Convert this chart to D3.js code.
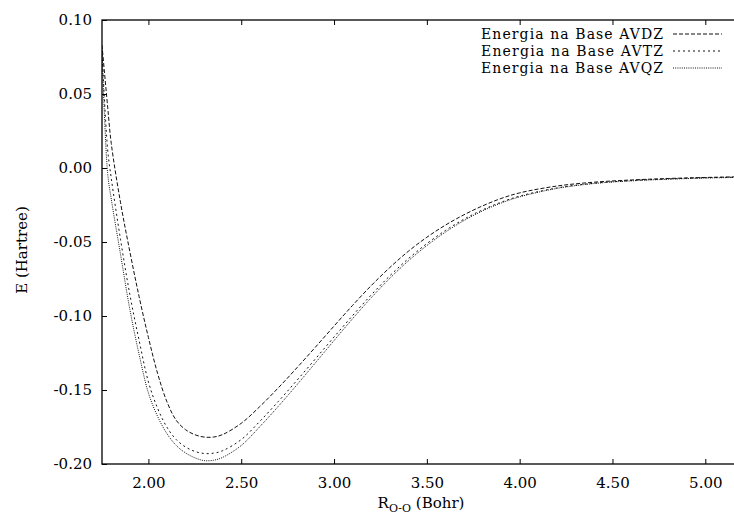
<!DOCTYPE html>
<html>
<head>
<meta charset="utf-8">
<script src="https://cdn.jsdelivr.net/npm/d3@7"></script>
<style>
    body { margin: 0; background: #fff; }
    text { font-family: "DejaVu Serif", serif; fill: #000; }
</style>
</head>
<body>
<script>
// distances R (Bohr)
var rValues = [1.75, 1.78, 1.80, 1.85, 1.90, 1.95, 2.00, 2.05, 2.10, 2.15, 2.20, 2.25, 2.30, 2.35, 2.40,
    2.50, 2.60, 2.70, 2.80, 2.90, 3.00, 3.10, 3.20, 3.30, 3.40, 3.50, 3.60, 3.70, 3.80, 3.90, 4.00,
    4.20, 4.40, 4.60, 4.80, 5.00, 5.20];

// energies (Hartree)
var eAVDZ = [0.083, 0.042, 0.0165, -0.0235, -0.0565, -0.087, -0.1145, -0.139, -0.158, -0.1705, -0.1768, -0.1802, -0.1818, -0.1818, -0.1801,
    -0.1725, -0.1612, -0.1485, -0.135, -0.121, -0.1068, -0.0928, -0.0795, -0.0673, -0.0563, -0.0468, -0.0386, -0.0316, -0.0256, -0.0206, -0.0168,
    -0.0122, -0.0096, -0.0081, -0.0071, -0.0064, -0.0059];
var eAVTZ = [0.080, 0.013, -0.007, -0.0485, -0.0855, -0.1165, -0.1445, -0.1625, -0.1752, -0.1835, -0.1885, -0.1915, -0.1929, -0.1927, -0.191,
    -0.1835, -0.1712, -0.1577, -0.1435, -0.1289, -0.1142, -0.0997, -0.0858, -0.0729, -0.0613, -0.0511, -0.0422, -0.0346, -0.0283, -0.0231, -0.019,
    -0.0135, -0.0103, -0.0085, -0.0074, -0.0066, -0.0061];
var eAVQZ = [0.079, -0.003, -0.021, -0.0585, -0.0955, -0.126, -0.152, -0.168, -0.1795, -0.1875, -0.1925, -0.1958, -0.1977, -0.1975, -0.1955,
    -0.1875, -0.1748, -0.161, -0.1465, -0.1316, -0.1166, -0.1018, -0.0877, -0.0746, -0.0628, -0.0524, -0.0433, -0.0355, -0.029, -0.0237, -0.0195,
    -0.0138, -0.0105, -0.0087, -0.0076, -0.0068, -0.0063];

var seriesNames = ["Energia na Base AVDZ", "Energia na Base AVTZ", "Energia na Base AVQZ"];
var xTicks = [2.0, 2.5, 3.0, 3.5, 4.0, 4.5, 5.0];
var yTicks = [0.10, 0.05, 0.00, -0.05, -0.10, -0.15, -0.20];

var margin = {top: 20, right: 0, bottom: 51, left: 102};
var width = 633;
var height = 444;

var svg = d3.select("body")
    .append("svg")
    .attr("width", 734)
    .attr("height", 515);

var g = svg.append("g")
    .attr("transform", `translate(${margin.left}, ${margin.top})`);

const x = d3.scaleLinear()
    .domain([1.75, 5.16])
    .range([0, width]);

const y = d3.scaleLinear()
    .domain([-0.20, 0.10])
    .range([height, 0]);

const dashes = ["4,2", "2,3", "1,1.2"];

svg.append("defs").append("clipPath")
    .attr("id", "plot-clip")
    .append("rect")
    .attr("width", width)
    .attr("height", height);

var series = [eAVDZ, eAVTZ, eAVQZ].map((vals, i) => ({
    name: seriesNames[i],
    dash: dashes[i],
    points: vals.map((e, j) => ({r: rValues[j], e: e}))
}));

var line = d3.line()
    .x(d => x(d.r))
    .y(d => y(d.e))
    .curve(d3.curveCatmullRom.alpha(0.5));

g.append("g")
    .attr("clip-path", "url(#plot-clip)")
    .selectAll("path")
    .data(series)
    .enter()
    .append("path")
    .attr("d", d => line(d.points))
    .attr("fill", "none")
    .attr("stroke", "#111")
    .attr("stroke-width", 1)
    .attr("stroke-dasharray", d => d.dash);

// axes, ticks pointing inwards
var xAxis = d3.axisBottom(x)
    .tickValues(xTicks)
    .tickSize(-5)
    .tickPadding(13)
    .tickFormat(d => d.toFixed(2));

g.append("g")
    .attr("transform", `translate(0, ${height})`)
    .call(xAxis);

g.append("g")
    .call(d3.axisTop(x).tickValues(xTicks).tickSize(-5).tickFormat(""));

var yAxis = d3.axisLeft(y)
    .tickValues(yTicks)
    .tickSize(-5)
    .tickPadding(10)
    .tickFormat(d => d.toFixed(2));

g.append("g")
    .call(yAxis);

g.selectAll(".domain").remove();
g.selectAll(".tick line").attr("stroke", "#000");
g.selectAll(".tick text")
    .style("font-family", "DejaVu Serif")
    .style("font-size", "15px");

g.append("rect")
    .attr("x", 0)
    .attr("y", 0)
    .attr("width", width)
    .attr("height", height)
    .attr("fill", "none")
    .attr("stroke", "#000")
    .attr("stroke-width", 1.3);

// axis titles
var xTitle = svg.append("text")
    .attr("x", 421)
    .attr("y", 508)
    .attr("text-anchor", "middle")
    .style("font-size", "15px");
xTitle.append("tspan").text("R");
xTitle.append("tspan").attr("dy", 4).style("font-size", "11px").text("O-O");
xTitle.append("tspan").attr("dy", -4).text(" (Bohr)");

svg.append("text")
    .attr("transform", "rotate(-90)")
    .attr("x", -250)
    .attr("y", 27)
    .attr("text-anchor", "middle")
    .style("font-size", "15px")
    .text("E (Hartree)");

// legend
var legend = svg.append("g")
    .selectAll("g")
    .data(series)
    .enter()
    .append("g")
    .attr("transform", (d, i) => `translate(0, ${39 + i * 17})`);

legend.append("text")
    .attr("x", 663)
    .attr("y", 0)
    .attr("text-anchor", "end")
    .attr("textLength", 182)
    .attr("lengthAdjust", "spacing")
    .style("font-size", "14px")
    .text(d => d.name);

legend.append("line")
    .attr("x1", 673)
    .attr("x2", 722)
    .attr("y1", -5)
    .attr("y2", -5)
    .attr("stroke", "#111")
    .attr("stroke-width", 1)
    .attr("stroke-dasharray", d => d.dash);
</script>
</body>
</html>
